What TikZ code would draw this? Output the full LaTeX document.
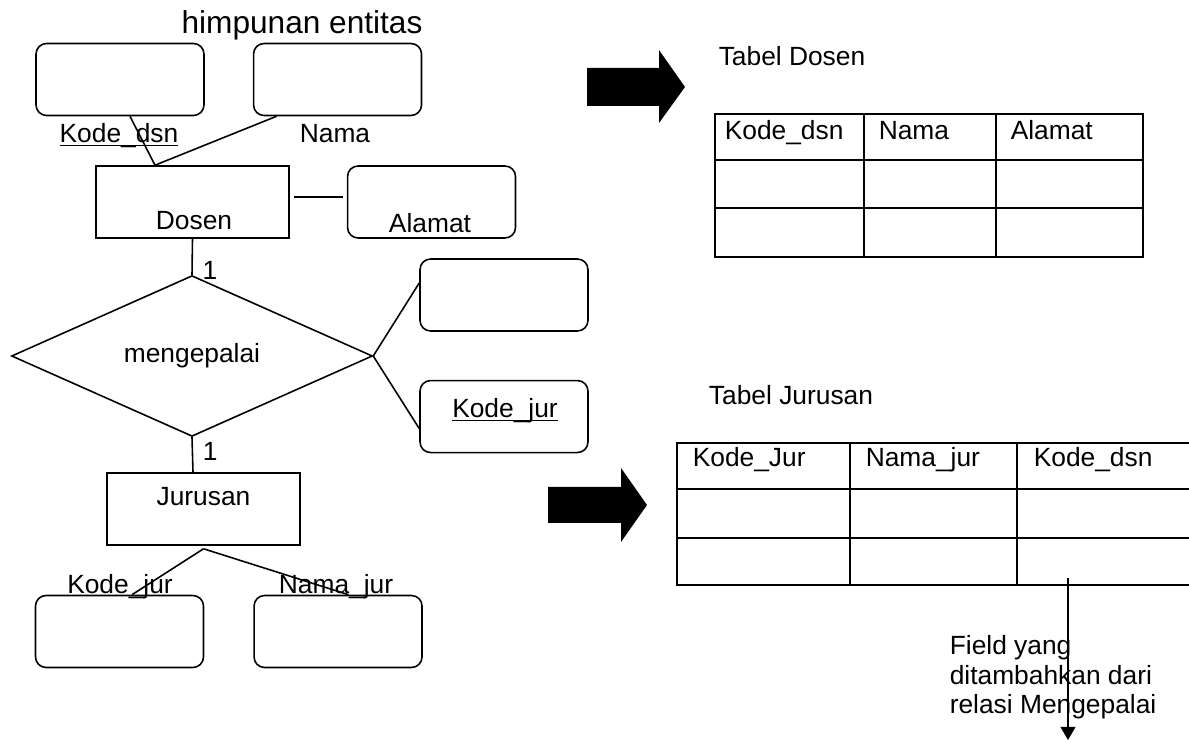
\documentclass[tikz,border=0pt]{standalone}
\usepackage{fontspec}
\setmainfont{Liberation Sans}
\usetikzlibrary{positioning,shapes.geometric,calc,arrows.meta}

\begin{document}
\begin{tikzpicture}[x=0.02cm, y=-0.02cm, line width=0.9pt,
	attr/.style = {draw, rounded corners=6pt, minimum width=3.36cm, minimum height=1.44cm, inner sep=0pt},
	ent/.style = {draw, minimum width=3.86cm, minimum height=1.44cm, inner sep=0pt},
	rel/.style = {draw, diamond, minimum width=7.22cm, minimum height=1.9cm, inner sep=0pt},
	txt/.style = {font=\fontsize{15}{18}\selectfont, inner sep=0pt},
	blok/.style = {fill=black}]
	\useasboundingbox (0,0) rectangle (1189,742);
	\node[txt, font=\fontsize{18}{21}\selectfont, anchor=base] (judul) at (302,34) {himpunan entitas};

	% entitas Dosen
	\node[attr] (kdsn) at (120,79.5) {};
	\node[attr] (nama) [right=0.96cm of kdsn] {};
	\node[ent] (dosen) at (192.5,202) {};
	\node[attr] (alamat) [right=1.14cm of dosen] {};
	\node[txt, anchor=base] (lkdsn) at (119,143) {\underline{\smash{Kode\_dsn}}};
	\node[txt, anchor=base] (lnama) at (335,143) {Nama};
	\node[txt, anchor=base] (ldosen) at (194,230) {Dosen};
	\node[txt, anchor=base] (lalamat) at (430,233) {Alamat};

	% relasi
	\node[rel, txt] (mgp) at (192,356) {mengepalai};
	\node[attr] (kosong) at (504,295) {};
	\node[attr] (kjur) [below=0.96cm of kosong] {};
	\node[txt, anchor=base] (lkjur) at (505,418) {\underline{\smash{Kode\_jur}}};

	% entitas Jurusan
	\node[ent] (jurusan) at (203.5,509) {};
	\node[txt, anchor=base] (ljurusan) at (203.5,505) {Jurusan};
	\node[attr] (kj) at (119.5,631.5) {};
	\node[attr] (nj) [right=0.98cm of kj] {};
	\node[txt, anchor=base] (lkj) at (120,593) {\underline{\smash{Kode\_jur}}};
	\node[txt, anchor=base] (lnj) at (336,593) {Nama\_jur};

	\draw[-] ($(kdsn.south)+(10,0)$) -- ($(dosen.north)+(-37.5,0)$);
	\draw[-] ($(nama.south)+(-61,0)$) -- ($(dosen.north)+(-37.5,0)$);
	\draw[-] ($(dosen.east)+(4,-5)$) -- ($(alamat.west)+(-4,-5)$);
	\draw[-] (dosen.south) -- (mgp.north) node[txt, pos=0.87, right=5.5pt] (satu1) {1};
	\draw[-] (mgp.south) -- ($(jurusan.north)+(-10.5,0)$) node[txt, pos=0.41, right=5.5pt] (satu2) {1};
	\draw[-] (mgp.east) -- ($(kosong.west)+(0,-12)$);
	\draw[-] (mgp.east) -- ($(kjur.west)+(0,12)$);
	\draw[-] ($(jurusan.south)+(0,3)$) -- ($(kj.north)+(12.5,0)$);
	\draw[-] ($(jurusan.south)+(0,3)$) -- ($(nj.north)+(10.5,0)$);

	% panah blok
	\fill[blok] (587,68) -- (659,68) -- (659,50) -- (685,87) -- (659,123) -- (659,106) -- (587,106) -- cycle;
	\fill[blok] (548,487) -- (621,487) -- (621,468) -- (647,505) -- (621,542) -- (621,523) -- (548,523) -- cycle;

	% tabel Dosen
	\node[txt, anchor=base] (tdosen) at (792,66) {Tabel Dosen};
	\draw (715,114) rectangle (1143,257);
	\foreach \y in {160,208} \draw (715,\y) -- (1143,\y);
	\foreach \x in {864,996} \draw (\x,114) -- (\x,257);
	\node[txt, anchor=base west] (hd1) at (724,140) {Kode\_dsn};
	\node[txt, anchor=base west] (hd2) at (878,140) {Nama};
	\node[txt, anchor=base west] (hd3) at (1010,140) {Alamat};

	% tabel Jurusan
	\node[txt, anchor=base] (tjur) at (791,405) {Tabel Jurusan};
	\draw (677,443) rectangle (1200,585);
	\foreach \y in {489,538} \draw (677,\y) -- (1200,\y);
	\foreach \x in {850,1017} \draw (\x,443) -- (\x,585);
	\node[txt, anchor=base west] (hj1) at (692,467) {Kode\_Jur};
	\node[txt, anchor=base west] (hj2) at (865,467) {Nama\_jur};
	\node[txt, anchor=base west] (hj3) at (1033,467) {Kode\_dsn};

	\node[txt, font=\fontsize{15}{16.7}\selectfont, align=left, anchor=north west] (ket) at (949,635) {Field yang\\ditambahkan dari\\relasi Mengepalai};
	\coordinate (asal) at (1068,578);
	\coordinate (ujung) at (1068,740);
	\draw[-{Triangle[width=8.5pt,length=7.5pt]}] (asal) -- (ujung);
\end{tikzpicture}
\end{document}
